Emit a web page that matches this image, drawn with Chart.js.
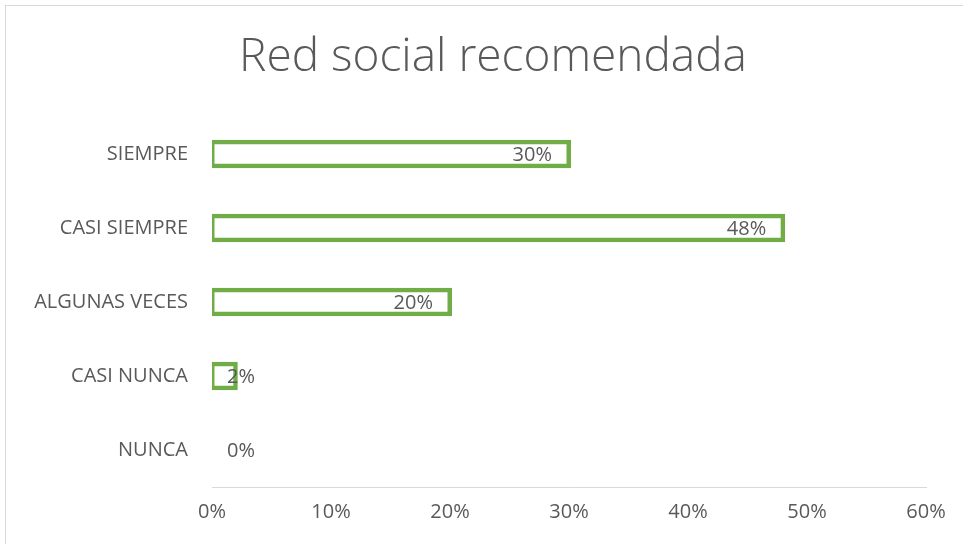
<!DOCTYPE html>
<html>
<head>
<meta charset="utf-8">
<script src="https://cdn.jsdelivr.net/npm/chart.js@4.4.0/dist/chart.umd.min.js"></script>
<style>
 html, body { margin: 0; padding: 0; background: #fff; }
 #wrap { position: relative; width: 963px; height: 544px; }
</style>
</head>
<body>
<div id="wrap"><canvas id="myChart" width="963" height="544"></canvas></div>
<script>
// chart values
const categories = ["SIEMPRE", "CASI SIEMPRE", "ALGUNAS VECES", "CASI NUNCA", "NUNCA"];
const values = [30, 48, 20, 2, 0];
const tickLabels = ["0%", "10%", "20%", "30%", "40%", "50%", "60%"];
const chartTitle = 'Red social recomendada';

const FONT = "'Open Sans', sans-serif";
const GRAY = '#595959';

// draws the percentage next to the end of every bar
const barLabels = {
 id: 'barLabels',
 afterDatasetsDraw(chart) {
  const ctx = chart.ctx;
  const meta = chart.getDatasetMeta(0);
  const base = chart.scales.x.getPixelForValue(0);
  ctx.save();
  ctx.font = '20px ' + FONT;
  ctx.fillStyle = GRAY;
  ctx.textAlign = 'right';
  ctx.textBaseline = 'middle';
  meta.data.forEach(function(bar, i) {
   const txt = values[i] + '%';
   const w = ctx.measureText(txt).width;
   const x = Math.max(bar.x - 17, base + 15 + w);
   ctx.fillText(txt, x, bar.y + 1);
  });
  ctx.restore();
 }
};

// light frame round the chart and the title
const frame = {
 id: 'frame',
 beforeDraw(chart) {
  const ctx = chart.ctx;
  ctx.save();
  ctx.strokeStyle = '#d9d9d9';
  ctx.lineWidth = 1;
  ctx.strokeRect(5.5, 5.5, 1000, 600);
  ctx.font = '300 46px ' + FONT;
  ctx.fillStyle = GRAY;
  ctx.textAlign = 'center';
  ctx.textBaseline = 'middle';
  ctx.fillText(chartTitle, 493, 58);
  ctx.restore();
 }
};

const ctx = document.getElementById('myChart').getContext('2d');
new Chart(ctx, {
 type: 'bar',
 data: {
  labels: categories,
  datasets: [{
   data: values,
   backgroundColor: '#ffffff',
   borderColor: '#70AD47',
   borderWidth: function(c) { return c.raw === 0 ? 0 : 4.5; },
   inflateAmount: function(c) { return c.raw === 0 ? 0 : 2; },
   borderSkipped: false,
   barPercentage: 0.33,
   categoryPercentage: 1
  }]
 },
 options: {
  indexAxis: 'y',
  responsive: false,
  animation: false,
  layout: { padding: { left: 0, right: 37, top: 117, bottom: 0 } },
  plugins: {
   legend: { display: false },
   tooltip: { enabled: false },
   title: { display: false }
  },
  scales: {
   x: {
    min: 0,
    max: 60,
    ticks: {
     stepSize: 10,
     color: GRAY,
     font: { family: FONT, size: 20 },
     padding: 13,
     callback: function(v) { return tickLabels[v / 10]; }
    },
    grid: { display: false, drawTicks: false },
    border: { display: true, color: '#d9d9d9', width: 1 },
    afterFit: function(s) { s.height = 57; }
   },
   y: {
    ticks: {
     color: GRAY,
     font: { family: FONT, size: 20 },
     padding: 24
    },
    grid: { display: false, drawTicks: false },
    border: { display: false },
    afterFit: function(s) { s.width = 212; }
   }
  }
 },
 plugins: [barLabels, frame]
});
</script>
</body>
</html>
